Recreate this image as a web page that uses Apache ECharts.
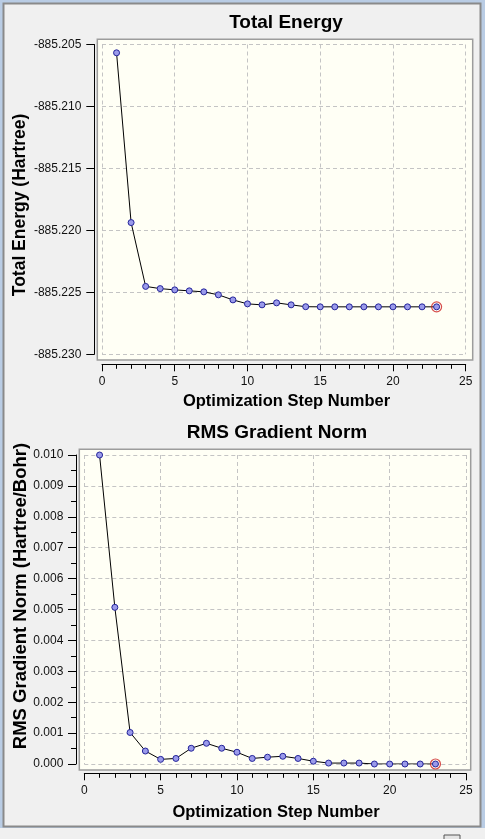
<!DOCTYPE html>
<html>
<head>
<meta charset="utf-8">
<script src="https://cdn.jsdelivr.net/npm/echarts@6/dist/echarts.min.js"></script>
<style>
  html, body { margin: 0; padding: 0; background: #f0f0f0; }
  #main { width: 485px; height: 839px; }
</style>
</head>
<body>
<div id="main"></div>
<script>
// optimization steps and the two traces
const steps = [1, 2, 3, 4, 5, 6, 7, 8, 9, 10, 11, 12, 13, 14, 15, 16, 17, 18, 19, 20, 21, 22, 23]
const totalEnergy = [
  -885.20567, -885.21937, -885.22452, -885.22470, -885.22480, -885.22488, -885.22496,
  -885.22520, -885.22561, -885.22593, -885.22601, -885.22585, -885.22601, -885.22616,
  -885.22617, -885.22617, -885.22617, -885.22617, -885.22617, -885.22617, -885.22617,
  -885.22617, -885.22617,
]
const rmsGradient = [
  0.01000, 0.00507, 0.00102, 0.00042, 0.00015, 0.00018, 0.00051, 0.00067, 0.00051,
  0.00038, 0.00018, 0.00022, 0.00025, 0.00018, 0.00009, 0.00003, 0.00003, 0.00003,
  0.00000, 0.00000, 0.00000, 0.00000, 0.00000,
]

// axis ranges
const stepRange = [0, 25]
const stepInterval = 5
const energyRange = [-885.230, -885.205]
const energyInterval = 0.005
const gradRange = [0, 0.010]
const gradInterval = 0.001

const FONT = "'Liberation Sans', Arial, sans-serif"
const LABEL = { color: '#111', fontFamily: FONT, fontSize: 12 }
const SPLIT = { show: true, lineStyle: { color: '#c4c4c4', type: [4, 3], width: 1 } }
// onZero off, otherwise the offset is ignored
const LINE = { show: true, onZero: false, lineStyle: { color: '#000', width: 1 } }

function xAxisFor(gridIndex, offset, margin) {
  return {
    type: 'value', gridIndex, min: stepRange[0], max: stepRange[1], interval: stepInterval,
    offset,
    axisLine: LINE,
    axisTick: { show: true, length: 7, lineStyle: { color: '#000' } },
    minorTick: { show: true, splitNumber: 5, length: 4.5, lineStyle: { color: '#000' } },
    axisLabel: { ...LABEL, margin },
    splitLine: SPLIT,
  }
}

const chart = echarts.init(document.getElementById('main'), null, { renderer: 'canvas' })

const lastIdx = steps.length - 1
const dotStyle = { color: '#9a9aea', borderColor: '#24249a', borderWidth: 1 }

function traceSeries(xi, yi, values) {
  return [
    {
      type: 'line', xAxisIndex: xi, yAxisIndex: yi,
      data: steps.map((s, i) => [s, values[i]]),
      symbol: 'circle', symbolSize: 6, showSymbol: true,
      itemStyle: dotStyle,
      lineStyle: { color: '#000', width: 1 },
      emphasis: { disabled: true }, z: 3,
    },
    {
      // red ring on the final geometry
      type: 'scatter', xAxisIndex: xi, yAxisIndex: yi,
      data: [[steps[lastIdx], values[lastIdx]]],
      symbol: 'circle', symbolSize: 10,
      itemStyle: { color: 'rgba(0,0,0,0)', borderColor: '#cc1f1f', borderWidth: 1.2 },
      emphasis: { disabled: true }, z: 4,
    },
  ]
}

function text(x, y, str, size, rot) {
  return {
    type: 'text', x, y, rotation: rot || 0, z: 5,
    style: {
      text: str, fontFamily: FONT, fontSize: size, fontWeight: 'bold', fill: '#000',
      align: 'center', verticalAlign: 'middle',
    },
  }
}

chart.setOption({
  animation: false,
  backgroundColor: '#f0f0f0',
  grid: [
    { left: 102, top: 44.5, width: 363.7, height: 309.8 },
    { left: 84.3, top: 455, width: 381.7, height: 309 },
  ],
  xAxis: [xAxisFor(0, 10, 11), xAxisFor(1, 9.3, 11.5)],
  yAxis: [
    {
      type: 'value', gridIndex: 0, min: energyRange[0], max: energyRange[1], interval: energyInterval,
      offset: 7.7,
      axisLine: LINE,
      axisTick: { show: true, length: 8, lineStyle: { color: '#000' } },
      axisLabel: { ...LABEL, margin: 13, formatter: v => v.toFixed(3) },
      splitLine: SPLIT,
    },
    {
      type: 'value', gridIndex: 1, min: gradRange[0], max: gradRange[1], interval: gradInterval,
      offset: 8.3,
      axisLine: LINE,
      axisTick: { show: true, length: 8, lineStyle: { color: '#000' } },
      minorTick: { show: true, splitNumber: 2, length: 5, lineStyle: { color: '#000' } },
      axisLabel: { ...LABEL, margin: 12.7, formatter: v => v.toFixed(3) },
      splitLine: SPLIT,
    },
  ],
  series: [...traceSeries(0, 0, totalEnergy), ...traceSeries(1, 1, rmsGradient)],
  graphic: [
    { type: 'rect', z: -10, shape: { x: 0, y: 0, width: 485, height: 828 }, style: { fill: '#b9cce4' } },
    { type: 'rect', z: -9, shape: { x: 3.5, y: 3.5, width: 477, height: 823 },
      style: { fill: '#f0f0f0', stroke: '#8a8a8a', lineWidth: 2 } },
    { type: 'rect', z: -8, shape: { x: 97.3, y: 39.3, width: 375.4, height: 320.7 },
      style: { fill: '#fffff5', stroke: '#9c9c9c', lineWidth: 1.5 } },
    { type: 'rect', z: -8, shape: { x: 79.3, y: 449.3, width: 391.4, height: 320.7 },
      style: { fill: '#fffff5', stroke: '#9c9c9c', lineWidth: 1.5 } },
    { type: 'rect', z: -8, shape: { x: 444, y: 835, width: 16, height: 8 },
      style: { fill: '#e4e4e4', stroke: '#555', lineWidth: 1 } },
    text(286, 22.3, 'Total Energy', 19),
    text(286.5, 401.8, 'Optimization Step Number', 16.5),
    text(20.5, 205, 'Total Energy (Hartree)', 17.5, Math.PI / 2),
    text(277, 432.7, 'RMS Gradient Norm', 19),
    text(276, 812.5, 'Optimization Step Number', 16.5),
    text(20.5, 596, 'RMS Gradient Norm (Hartree/Bohr)', 18.5, Math.PI / 2),
  ],
})
</script>
</body>
</html>
